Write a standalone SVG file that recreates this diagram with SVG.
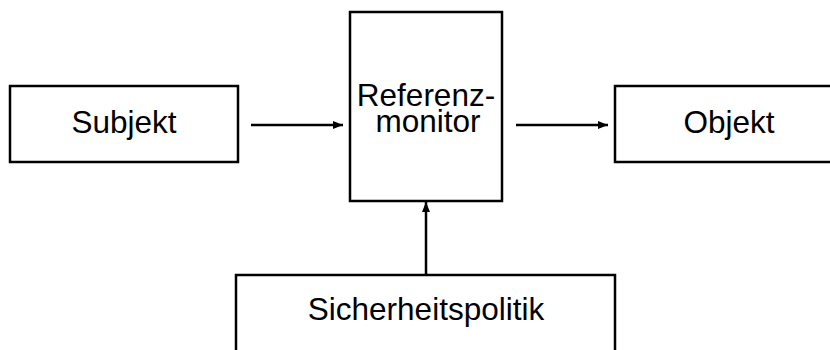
<svg xmlns="http://www.w3.org/2000/svg" width="830" height="350" viewBox="0 0 830 350">
<style>
.box{fill:#fff;stroke:#000;stroke-width:2.5}
.lbl{font-family:"Liberation Sans",Arial,sans-serif;font-size:31.5px;fill:#000;text-anchor:middle}
.conn{stroke:#000;stroke-width:2.5;fill:none;marker-end:url(#ah)}
</style>
<defs>
<marker id="ah" viewBox="0 0 10 8" refX="10" refY="4" markerWidth="4" markerHeight="3.2" orient="auto" markerUnits="strokeWidth">
<path d="M0,0 L10,4 L0,8 Z" fill="#000"/>
</marker>
</defs>
<rect width="830" height="350" fill="#fff"/>
<g id="subjekt">
<rect class="box" x="10" y="86" width="228" height="76"/>
<text class="lbl" x="124" y="133">Subjekt</text>
</g>
<g id="referenzmonitor">
<rect class="box" x="350" y="12" width="152" height="189"/>
<text class="lbl" x="426" y="106">Referenz-</text>
<text class="lbl" x="428" y="132">monitor</text>
</g>
<g id="objekt">
<rect class="box" x="615" y="86" width="240" height="76"/>
<text class="lbl" x="729" y="133">Objekt</text>
</g>
<g id="sicherheitspolitik">
<rect class="box" x="236" y="275" width="379" height="100"/>
<text class="lbl" x="426" y="320">Sicherheitspolitik</text>
</g>
<g id="connectors">
<line class="conn" x1="251" y1="125" x2="343" y2="125"/>
<line class="conn" x1="516" y1="125" x2="608" y2="125"/>
<line class="conn" x1="426" y1="275" x2="426" y2="202"/>
</g>
</svg>
